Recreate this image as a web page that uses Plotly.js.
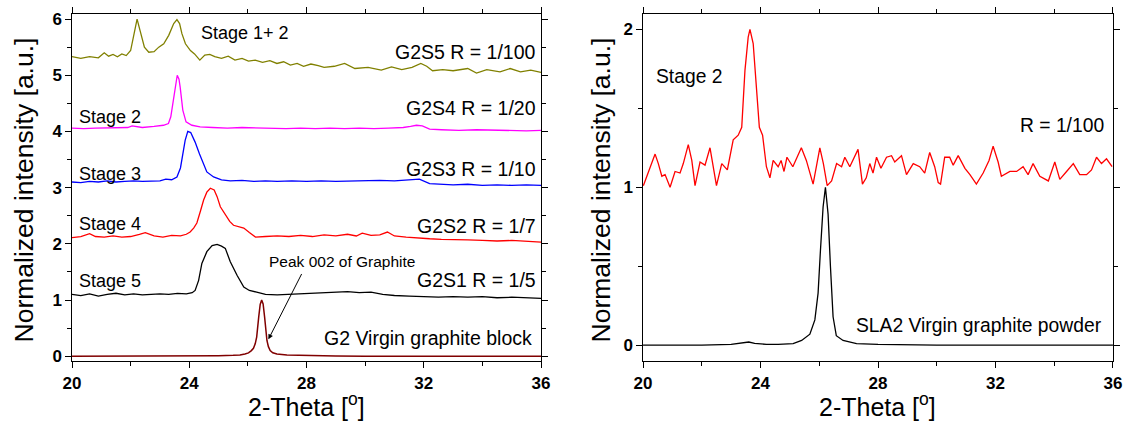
<!DOCTYPE html>
<html>
<head>
<meta charset="utf-8">
<script src="https://cdn.plot.ly/plotly-3.0.1.min.js"></script>
<style>html,body{margin:0;padding:0;background:#fff;}#chart{width:1125px;height:423px;}</style>
</head>
<body>
<div id="chart"></div>
<script>
// ---- Tick labels ----
var xTickVals = [20, 24, 28, 32, 36];
var xTickText = ['20', '24', '28', '32', '36'];
var yLeftTickVals = [0, 1, 2, 3, 4, 5, 6];
var yLeftTickText = ['0', '1', '2', '3', '4', '5', '6'];
var yRightTickVals = [0, 1, 2];
var yRightTickText = ['0', '1', '2'];

// ---- Left panel: G2 block intercalation series (offset curves) ----
var g2s5X = [20.0,20.3,20.6,20.9,21.1,21.25,21.4,21.55,21.7,21.85,22.0,22.12,22.22,22.32,22.47,22.62,22.8,22.96,23.13,23.3,23.47,23.58,23.67,23.75,23.87,24.04,24.18,24.36,24.53,24.7,24.87,25.1,25.33,25.56,25.8,26.02,26.25,26.5,26.75,26.99,27.22,27.45,27.68,27.9,28.15,28.4,28.6,28.95,29.3,29.65,30.1,30.55,30.9,31.25,31.6,31.9,32.1,32.3,32.65,33.0,33.5,33.8,34.15,34.6,34.95,35.3,35.65,36.0];
var g2s5Y = [5.33,5.30,5.33,5.31,5.40,5.34,5.37,5.33,5.38,5.35,5.44,5.75,6.0,5.80,5.50,5.41,5.42,5.50,5.56,5.71,5.92,5.99,5.92,5.74,5.56,5.44,5.38,5.27,5.36,5.37,5.33,5.30,5.34,5.27,5.30,5.25,5.27,5.23,5.26,5.21,5.24,5.18,5.21,5.16,5.20,5.17,5.14,5.16,5.21,5.12,5.14,5.09,5.15,5.10,5.14,5.21,5.16,5.08,5.10,5.08,5.12,5.04,5.10,5.06,5.12,5.06,5.09,5.05];

var g2s4X = [20.0,20.4,20.8,21.2,21.6,21.9,22.05,22.4,22.8,23.12,23.29,23.37,23.46,23.53,23.59,23.65,23.69,23.78,23.89,24.09,24.37,24.8,25.3,25.8,26.3,26.8,27.3,27.8,28.3,28.8,29.3,29.8,30.3,30.8,31.3,31.55,31.75,31.95,32.2,32.6,33.2,33.8,34.4,35.0,35.5,36.0];
var g2s4Y = [4.06,4.05,4.06,4.06,4.07,4.07,4.10,4.07,4.09,4.11,4.14,4.26,4.56,4.85,5.0,4.93,4.79,4.38,4.17,4.11,4.08,4.07,4.06,4.07,4.06,4.06,4.05,4.06,4.05,4.06,4.05,4.06,4.05,4.06,4.07,4.09,4.11,4.10,4.04,4.03,4.02,4.03,4.02,4.02,4.01,4.02];

var g2s3X = [20.0,20.3,20.6,20.9,21.2,21.5,21.8,22.1,22.4,22.7,23.0,23.2,23.4,23.58,23.7,23.86,23.95,24.05,24.2,24.35,24.49,24.6,24.83,25.1,25.4,25.8,26.2,26.6,27.0,27.5,28.0,28.5,29.0,29.5,30.0,30.5,31.0,31.5,31.85,32.2,32.6,33.0,33.5,34.0,34.5,35.0,35.5,36.0];
var g2s3Y = [3.10,3.09,3.11,3.10,3.12,3.10,3.11,3.12,3.11,3.12,3.12,3.15,3.14,3.19,3.35,3.84,4.0,3.98,3.81,3.60,3.40,3.28,3.19,3.14,3.12,3.13,3.11,3.12,3.11,3.12,3.11,3.12,3.11,3.12,3.12,3.13,3.12,3.13,3.15,3.07,3.06,3.05,3.06,3.04,3.05,3.04,3.05,3.04];

var g2s2X = [20.0,20.3,20.6,20.8,21.1,21.4,21.7,22.0,22.3,22.5,22.8,23.1,23.4,23.7,23.9,24.03,24.15,24.26,24.38,24.49,24.6,24.72,24.85,24.95,25.06,25.23,25.38,25.51,25.7,25.86,26.05,26.26,26.6,27.0,27.4,27.8,28.2,28.6,29.0,29.4,29.7,29.9,30.2,30.5,30.76,31.0,31.4,31.8,32.2,32.6,33.0,33.5,34.0,34.5,35.0,35.5,36.0];
var g2s2Y = [2.11,2.13,2.18,2.13,2.12,2.14,2.12,2.13,2.17,2.20,2.14,2.12,2.15,2.14,2.17,2.21,2.28,2.37,2.58,2.78,2.92,2.99,2.96,2.84,2.66,2.51,2.40,2.33,2.30,2.28,2.20,2.12,2.13,2.14,2.13,2.15,2.13,2.16,2.14,2.17,2.14,2.19,2.15,2.16,2.21,2.14,2.12,2.10,2.09,2.08,2.07,2.07,2.06,2.05,2.06,2.04,2.03];

var g2s1X = [20.0,20.3,20.6,20.9,21.2,21.5,21.8,22.1,22.4,22.7,23.0,23.3,23.6,23.9,24.1,24.2,24.32,24.43,24.6,24.78,24.95,25.1,25.23,25.4,25.63,25.86,26.05,26.3,26.6,27.0,27.4,27.8,28.2,28.6,29.0,29.4,29.8,30.2,30.6,31.0,31.5,32.0,32.5,33.0,33.5,34.0,34.5,35.0,35.5,36.0];
var g2s1Y = [1.10,1.08,1.11,1.07,1.10,1.12,1.09,1.11,1.09,1.10,1.11,1.10,1.12,1.11,1.13,1.17,1.35,1.65,1.86,1.97,1.99,1.96,1.92,1.68,1.44,1.23,1.17,1.14,1.10,1.09,1.10,1.11,1.12,1.13,1.14,1.15,1.13,1.14,1.10,1.08,1.07,1.06,1.05,1.06,1.05,1.06,1.04,1.05,1.04,1.03];

var g2X = [20,21,22,23,24,25,25.5,25.73,25.9,26.02,26.12,26.19,26.25,26.3,26.37,26.42,26.47,26.52,26.57,26.61,26.65,26.7,26.76,26.85,26.99,27.33,28,29,30,32,34,36];
var g2Y = [0,0,0,0,0.005,0.01,0.015,0.02,0.04,0.06,0.10,0.14,0.22,0.34,0.70,0.92,1.0,0.93,0.70,0.45,0.28,0.17,0.10,0.06,0.04,0.02,0.01,0.005,0,0,0,0];

// ---- Right panel: SLA2 powder ----
var slaRX = [20.01,20.2,20.41,20.52,20.64,20.75,20.92,21.09,21.26,21.37,21.54,21.66,21.77,21.94,22.11,22.28,22.5,22.68,22.87,23.07,23.24,23.36,23.47,23.58,23.64,23.75,23.87,23.96,24.07,24.2,24.32,24.43,24.6,24.7,24.8,24.9,25.1,25.28,25.39,25.56,25.79,26.02,26.14,26.27,26.42,26.59,26.76,26.87,27.04,27.32,27.47,27.6,27.72,27.83,27.95,28.1,28.29,28.46,28.57,28.8,28.97,29.2,29.42,29.59,29.76,29.93,30.05,30.13,30.27,30.44,30.56,30.73,30.96,31.13,31.35,31.58,31.78,31.92,32.09,32.2,32.49,32.72,32.94,33.11,33.28,33.51,33.8,34.02,34.19,34.42,34.65,34.87,35.1,35.27,35.44,35.61,35.78,35.97];
var slaRY = [1.01,1.10,1.21,1.15,1.07,1.08,1.00,1.10,1.09,1.15,1.27,1.17,1.01,1.16,1.14,1.25,1.01,1.15,1.11,1.30,1.33,1.38,1.74,1.95,2.0,1.91,1.63,1.38,1.33,1.13,1.06,1.17,1.13,1.17,1.10,1.19,1.13,1.21,1.25,1.17,1.02,1.25,1.15,1.01,1.04,1.15,1.13,1.19,1.13,1.24,1.02,1.06,1.15,1.09,1.19,1.12,1.19,1.20,1.16,1.20,1.08,1.15,1.13,1.09,1.22,1.13,1.03,1.02,1.19,1.19,1.14,1.20,1.12,1.08,1.02,1.09,1.17,1.26,1.16,1.07,1.10,1.10,1.13,1.08,1.15,1.07,1.04,1.16,1.05,1.10,1.15,1.08,1.08,1.11,1.19,1.15,1.18,1.13];

var sla2X = [20,21,22,23,23.4,23.6,23.8,24.2,24.6,25.11,25.4,25.68,25.85,25.96,26.04,26.13,26.21,26.3,26.38,26.47,26.58,26.81,27.27,28,30,32,34,36];
var sla2Y = [0,0,0,0.005,0.015,0.02,0.012,0.005,0.005,0.01,0.03,0.07,0.16,0.33,0.60,0.875,1.0,0.83,0.50,0.18,0.06,0.03,0.01,0.005,0,0,0,0];

var FONT = 'Arial, "Liberation Sans", sans-serif';

function line(x, y, color, ax, w) {
  return {x: x, y: y, type: 'scatter', mode: 'lines', xaxis: ax[0], yaxis: ax[1],
          line: {color: color, width: w || 1.3}, hoverinfo: 'skip'};
}

var data = [
  line(g2X, g2Y, '#800000', ['x','y'], 1.5),
  line(g2s1X, g2s1Y, '#000000', ['x','y']),
  line(g2s2X, g2s2Y, '#ff0000', ['x','y']),
  line(g2s3X, g2s3Y, '#0000ff', ['x','y']),
  line(g2s4X, g2s4Y, '#ff00ff', ['x','y']),
  line(g2s5X, g2s5Y, '#808000', ['x','y']),
  line(sla2X, sla2Y, '#000000', ['x2','y2']),
  line(slaRX, slaRY, '#ff0000', ['x2','y2'])
];

function bold(arr) { return arr.map(function (s) { return '<b>' + s + '</b>'; }); }

function xax(domain) {
  return {domain: domain, range: [20, 36], tickmode: 'array', tickvals: xTickVals, ticktext: bold(xTickText),
    ticks: 'outside', ticklen: 6,
    tickwidth: 1, tickcolor: '#000', showline: true, linecolor: '#000', linewidth: 1.2,
    mirror: 'allticks', showgrid: false, zeroline: false,
    minor: {tick0: 20, dtick: 2, ticks: 'outside', ticklen: 3.5, tickwidth: 1, tickcolor: '#000', showgrid: false},
    tickfont: {family: FONT, size: 17, color: '#000'}};
}
function yax(domain, range, anchor, vals, text) {
  return {domain: domain, range: range, tickmode: 'array', tickvals: vals, ticktext: bold(text),
    ticks: 'outside', ticklen: 5.5,
    tickwidth: 1, tickcolor: '#000', showline: true, linecolor: '#000', linewidth: 1.2,
    mirror: 'allticks', showgrid: false, zeroline: false, anchor: anchor,
    minor: {tick0: 0, dtick: 0.5, ticks: 'outside', ticklen: 3.5, tickwidth: 1, tickcolor: '#000', showgrid: false},
    tickfont: {family: FONT, size: 17, color: '#000'}};
}

var yDom = [0.1466, 0.9669];
var layout = {
  width: 1125, height: 423,
  margin: {l: 0, r: 0, t: 0, b: 0},
  paper_bgcolor: '#fff', plot_bgcolor: '#fff',
  showlegend: false,
  xaxis: Object.assign(xax([0.064, 0.4809]), {anchor: 'y'}),
  yaxis: yax(yDom, [-0.085, 6.09], 'x', yLeftTickVals, yLeftTickText),
  xaxis2: Object.assign(xax([0.5716, 0.9893]), {anchor: 'y2'}),
  yaxis2: yax(yDom, [-0.1, 2.097], 'x2', yRightTickVals, yRightTickText),
  annotations: []
};

function lab(text, x, y, xa, ya, anchor, size) {
  return {text: text, x: x, y: y, xref: xa, yref: ya, xanchor: anchor, yanchor: 'middle',
          showarrow: false, font: {family: FONT, size: size, color: '#000'}};
}
var A = layout.annotations;
A.push(lab('Stage 1+ 2', 24.34, 5.75, 'x', 'y', 'left', 18));
A.push(lab('G2S5 R = 1/100', 35.89, 5.41, 'x', 'y', 'right', 19.5));
A.push(lab('G2S4 R = 1/20', 35.89, 4.41, 'x', 'y', 'right', 19.5));
A.push(lab('G2S3 R = 1/10', 35.89, 3.34, 'x', 'y', 'right', 19.5));
A.push(lab('G2S2 R = 1/7', 35.89, 2.31, 'x', 'y', 'right', 19.5));
A.push(lab('G2S1 R = 1/5', 35.89, 1.35, 'x', 'y', 'right', 19.5));
A.push(lab('G2 Virgin graphite block', 35.76, 0.32, 'x', 'y', 'right', 19.5));
A.push(lab('Stage 2', 20.17, 4.26, 'x', 'y', 'left', 18));
A.push(lab('Stage 3', 20.17, 3.25, 'x', 'y', 'left', 18));
A.push(lab('Stage 4', 20.17, 2.35, 'x', 'y', 'left', 18));
A.push(lab('Stage 5', 20.17, 1.33, 'x', 'y', 'left', 18));
A.push(lab('Peak 002 of Graphite', 26.66, 1.68, 'x', 'y', 'left', 15.5));
A.push({text: '', x: 26.70, y: 0.30, xref: 'x', yref: 'y', ax: 27.86, ay: 1.49, axref: 'x', ayref: 'y',
        showarrow: true, arrowhead: 2, arrowsize: 1, arrowwidth: 1, arrowcolor: '#000'});
A.push(lab('Stage 2', 20.37, 1.70, 'x2', 'y2', 'left', 19.3));
A.push(lab('R = 1/100', 35.77, 1.39, 'x2', 'y2', 'right', 19.3));
A.push(lab('SLA2 Virgin graphite powder', 35.71, 0.127, 'x2', 'y2', 'right', 19.3));

// axis titles
var xt = '2-Theta [<sup>o</sup>]';
var yt = 'Normalized intensity [a.u.]';
A.push({text: xt, x: 0.272, y: 0.0435, xref: 'paper', yref: 'paper', xanchor: 'center', yanchor: 'middle',
        showarrow: false, font: {family: FONT, size: 25, color: '#000'}});
A.push({text: xt, x: 0.7804, y: 0.0435, xref: 'paper', yref: 'paper', xanchor: 'center', yanchor: 'middle',
        showarrow: false, font: {family: FONT, size: 25, color: '#000'}});
A.push({text: yt, x: 0.0209, y: 0.551, xref: 'paper', yref: 'paper', xanchor: 'center', yanchor: 'middle',
        textangle: -90, showarrow: false, font: {family: FONT, size: 26.5, color: '#000'}});
A.push({text: yt, x: 0.5338, y: 0.551, xref: 'paper', yref: 'paper', xanchor: 'center', yanchor: 'middle',
        textangle: -90, showarrow: false, font: {family: FONT, size: 26.5, color: '#000'}});

Plotly.newPlot('chart', data, layout, {staticPlot: true, displayModeBar: false});
</script>
</body>
</html>
